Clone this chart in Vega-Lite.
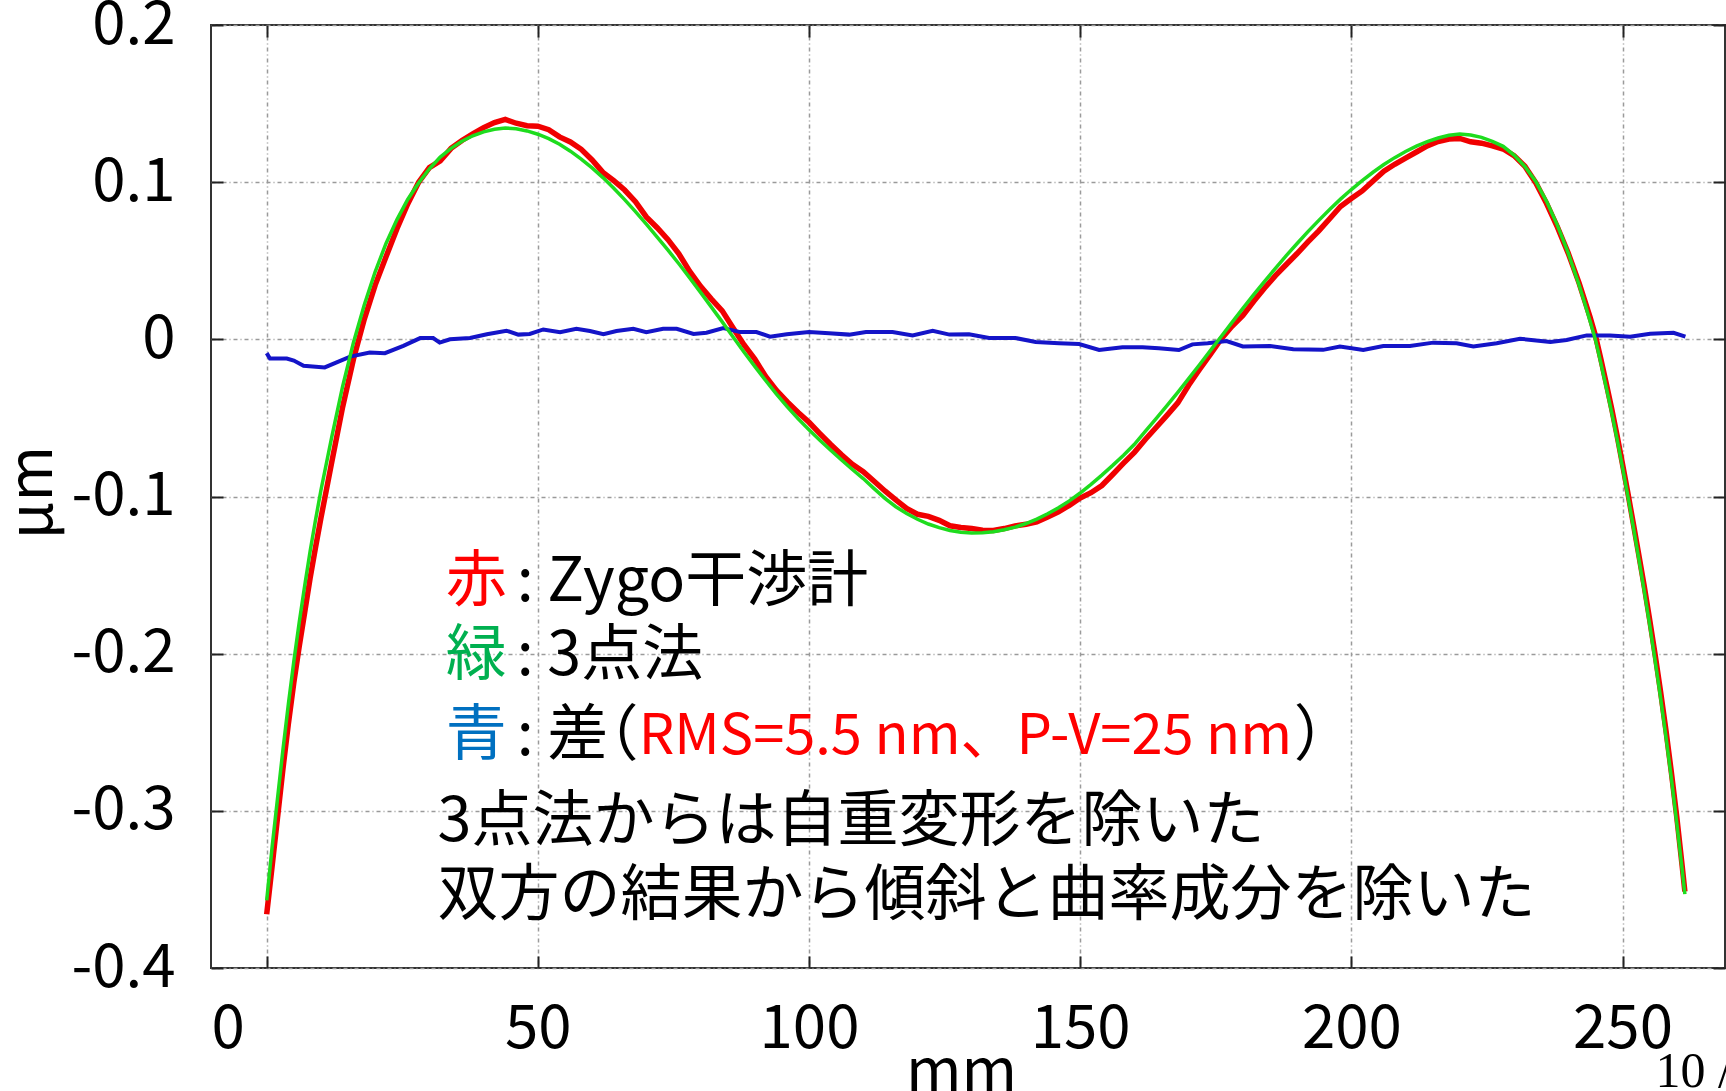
{
  "$schema": "https://vega.github.io/schema/vega-lite/v6.json",
  "width": 1514,
  "height": 943,
  "autosize": {"type": "none"},
  "padding": {"left": 211, "top": 25, "right": 1, "bottom": 123},
  "background": "white",
  "config": {
    "view": {"stroke": "#333333", "strokeWidth": 2},
    "font": "Noto Sans CJK JP"
  },
  "datasets": {
    "zygo": [
      {"x":0,"y":-0.3658},{"x":1,"y":-0.3352},{"x":2,"y":-0.3042},{"x":3,"y":-0.2732},{"x":4,"y":-0.2445},{"x":5,"y":-0.2185},{"x":6,"y":-0.1953},{"x":7,"y":-0.1738},{"x":8,"y":-0.1521},{"x":9,"y":-0.1324},{"x":10,"y":-0.1137},{"x":12,"y":-0.0781},{"x":14,"y":-0.0431},{"x":16,"y":-0.0126},{"x":18,"y":0.0129},{"x":20,"y":0.0345},{"x":22,"y":0.0525},{"x":24,"y":0.0702},{"x":26,"y":0.0861},{"x":28,"y":0.0998},{"x":30,"y":0.1093},{"x":32,"y":0.1135},{"x":34,"y":0.1215},{"x":36,"y":0.1265},{"x":38,"y":0.1307},{"x":40,"y":0.1347},{"x":42,"y":0.1379},{"x":44,"y":0.1399},{"x":46,"y":0.1375},{"x":48,"y":0.1359},{"x":50,"y":0.1356},{"x":52,"y":0.1334},{"x":54,"y":0.1288},{"x":56,"y":0.1256},{"x":58,"y":0.1209},{"x":60,"y":0.1141},{"x":62,"y":0.1062},{"x":64,"y":0.101},{"x":66,"y":0.095},{"x":68,"y":0.0876},{"x":70,"y":0.0779},{"x":72,"y":0.071},{"x":74,"y":0.0634},{"x":76,"y":0.0544},{"x":78,"y":0.0432},{"x":80,"y":0.0337},{"x":82,"y":0.0256},{"x":84,"y":0.0181},{"x":86,"y":0.0072},{"x":88,"y":-0.0034},{"x":90,"y":-0.0126},{"x":92,"y":-0.0236},{"x":94,"y":-0.0325},{"x":96,"y":-0.0398},{"x":98,"y":-0.0465},{"x":100,"y":-0.0528},{"x":102,"y":-0.06},{"x":104,"y":-0.0669},{"x":106,"y":-0.0735},{"x":108,"y":-0.0795},{"x":110,"y":-0.0842},{"x":112,"y":-0.0903},{"x":114,"y":-0.0965},{"x":116,"y":-0.1021},{"x":118,"y":-0.1076},{"x":120,"y":-0.1113},{"x":122,"y":-0.1126},{"x":124,"y":-0.1152},{"x":126,"y":-0.1186},{"x":128,"y":-0.1197},{"x":130,"y":-0.1204},{"x":132,"y":-0.1215},{"x":134,"y":-0.1216},{"x":136,"y":-0.1204},{"x":138,"y":-0.1187},{"x":140,"y":-0.1177},{"x":142,"y":-0.1161},{"x":144,"y":-0.1131},{"x":146,"y":-0.1097},{"x":148,"y":-0.1056},{"x":150,"y":-0.101},{"x":152,"y":-0.0976},{"x":154,"y":-0.093},{"x":156,"y":-0.086},{"x":158,"y":-0.0788},{"x":160,"y":-0.0719},{"x":162,"y":-0.0637},{"x":164,"y":-0.0561},{"x":166,"y":-0.0484},{"x":168,"y":-0.0404},{"x":170,"y":-0.0292},{"x":172,"y":-0.0192},{"x":174,"y":-0.0096},{"x":176,"y":0.0003},{"x":178,"y":0.0083},{"x":180,"y":0.0152},{"x":182,"y":0.0242},{"x":184,"y":0.0327},{"x":186,"y":0.0405},{"x":188,"y":0.0476},{"x":190,"y":0.0546},{"x":192,"y":0.062},{"x":194,"y":0.069},{"x":196,"y":0.0767},{"x":198,"y":0.0845},{"x":200,"y":0.0896},{"x":202,"y":0.0944},{"x":204,"y":0.1008},{"x":206,"y":0.107},{"x":208,"y":0.1114},{"x":210,"y":0.1153},{"x":212,"y":0.1192},{"x":214,"y":0.1231},{"x":216,"y":0.1259},{"x":218,"y":0.1274},{"x":220,"y":0.1278},{"x":222,"y":0.1257},{"x":224,"y":0.1248},{"x":226,"y":0.1231},{"x":228,"y":0.1211},{"x":230,"y":0.1169},{"x":232,"y":0.1101},{"x":234,"y":0.0997},{"x":236,"y":0.0864},{"x":238,"y":0.0714},{"x":240,"y":0.0547},{"x":242,"y":0.0358},{"x":244,"y":0.0143},{"x":245,"y":0.0025},{"x":246,"y":-0.0125},{"x":247,"y":-0.028},{"x":248,"y":-0.044},{"x":249,"y":-0.0612},{"x":250,"y":-0.0794},{"x":251,"y":-0.098},{"x":252,"y":-0.1174},{"x":253,"y":-0.137},{"x":254,"y":-0.1569},{"x":255,"y":-0.1782},{"x":256,"y":-0.2003},{"x":257,"y":-0.2237},{"x":258,"y":-0.2485},{"x":259,"y":-0.2752},{"x":260,"y":-0.3037},{"x":261,"y":-0.335},{"x":261.5,"y":-0.3513}
    ],
    "threept": [
      {"x":0,"y":-0.357},{"x":1,"y":-0.323},{"x":2,"y":-0.292},{"x":3,"y":-0.261},{"x":4,"y":-0.232},{"x":5,"y":-0.205},{"x":6,"y":-0.18},{"x":7,"y":-0.157},{"x":8,"y":-0.135},{"x":9,"y":-0.115},{"x":10,"y":-0.096},{"x":12,"y":-0.062},{"x":14,"y":-0.03},{"x":16,"y":-0.002},{"x":18,"y":0.022},{"x":20,"y":0.043},{"x":22,"y":0.061},{"x":24,"y":0.076},{"x":26,"y":0.089},{"x":28,"y":0.0995},{"x":30,"y":0.1085},{"x":32,"y":0.116},{"x":34,"y":0.1215},{"x":36,"y":0.126},{"x":38,"y":0.1295},{"x":40,"y":0.132},{"x":42,"y":0.1337},{"x":44,"y":0.1345},{"x":46,"y":0.134},{"x":48,"y":0.1326},{"x":50,"y":0.1305},{"x":52,"y":0.1277},{"x":54,"y":0.1241},{"x":56,"y":0.1197},{"x":58,"y":0.1147},{"x":60,"y":0.1091},{"x":62,"y":0.1029},{"x":64,"y":0.0961},{"x":66,"y":0.0889},{"x":68,"y":0.0813},{"x":70,"y":0.0733},{"x":72,"y":0.0651},{"x":74,"y":0.0567},{"x":76,"y":0.0481},{"x":78,"y":0.0391},{"x":80,"y":0.0299},{"x":82,"y":0.0205},{"x":84,"y":0.0111},{"x":86,"y":0.0015},{"x":88,"y":-0.008},{"x":90,"y":-0.0172},{"x":92,"y":-0.0262},{"x":94,"y":-0.0348},{"x":96,"y":-0.043},{"x":98,"y":-0.0505},{"x":100,"y":-0.0575},{"x":102,"y":-0.0642},{"x":104,"y":-0.0706},{"x":106,"y":-0.0768},{"x":108,"y":-0.0828},{"x":110,"y":-0.0886},{"x":112,"y":-0.095},{"x":114,"y":-0.1012},{"x":116,"y":-0.1065},{"x":118,"y":-0.1108},{"x":120,"y":-0.1145},{"x":122,"y":-0.1175},{"x":124,"y":-0.1198},{"x":126,"y":-0.1216},{"x":128,"y":-0.1228},{"x":130,"y":-0.1233},{"x":132,"y":-0.1231},{"x":134,"y":-0.1224},{"x":136,"y":-0.1212},{"x":138,"y":-0.1195},{"x":140,"y":-0.1172},{"x":142,"y":-0.1144},{"x":144,"y":-0.111},{"x":146,"y":-0.1072},{"x":148,"y":-0.1028},{"x":150,"y":-0.0978},{"x":152,"y":-0.0923},{"x":154,"y":-0.0864},{"x":156,"y":-0.0802},{"x":158,"y":-0.0737},{"x":160,"y":-0.0668},{"x":162,"y":-0.0585},{"x":164,"y":-0.0505},{"x":166,"y":-0.0422},{"x":168,"y":-0.0337},{"x":170,"y":-0.025},{"x":172,"y":-0.0162},{"x":174,"y":-0.0072},{"x":176,"y":0.0018},{"x":178,"y":0.0108},{"x":180,"y":0.0197},{"x":182,"y":0.0284},{"x":184,"y":0.0369},{"x":186,"y":0.0452},{"x":188,"y":0.0533},{"x":190,"y":0.061},{"x":192,"y":0.0685},{"x":194,"y":0.0757},{"x":196,"y":0.0826},{"x":198,"y":0.0892},{"x":200,"y":0.0953},{"x":202,"y":0.101},{"x":204,"y":0.1063},{"x":206,"y":0.1112},{"x":208,"y":0.1156},{"x":210,"y":0.1195},{"x":212,"y":0.1229},{"x":214,"y":0.1258},{"x":216,"y":0.1281},{"x":218,"y":0.1298},{"x":220,"y":0.1306},{"x":222,"y":0.13},{"x":224,"y":0.1285},{"x":226,"y":0.126},{"x":228,"y":0.1228},{"x":230,"y":0.1172},{"x":232,"y":0.11},{"x":234,"y":0.1005},{"x":236,"y":0.0878},{"x":238,"y":0.0725},{"x":240,"y":0.0548},{"x":242,"y":0.0345},{"x":243,"y":0.0235},{"x":244,"y":0.0118},{"x":245,"y":0},{"x":246,"y":-0.015},{"x":247,"y":-0.0305},{"x":248,"y":-0.0465},{"x":249,"y":-0.0635},{"x":250,"y":-0.0815},{"x":251,"y":-0.1},{"x":252,"y":-0.1195},{"x":253,"y":-0.1395},{"x":254,"y":-0.16},{"x":255,"y":-0.1815},{"x":256,"y":-0.204},{"x":257,"y":-0.2275},{"x":258,"y":-0.2525},{"x":259,"y":-0.279},{"x":260,"y":-0.3075},{"x":261,"y":-0.3375},{"x":261.5,"y":-0.353}
    ],
    "diff": [
      {"x":0,"y":-0.0088},{"x":0.6,"y":-0.0122},{"x":3.7,"y":-0.0122},{"x":5.0,"y":-0.0135},{"x":6.8,"y":-0.0168},{"x":10.7,"y":-0.0179},{"x":12.9,"y":-0.0147},{"x":15.4,"y":-0.011},{"x":19.0,"y":-0.0084},{"x":21.8,"y":-0.0088},{"x":25.2,"y":-0.0042},{"x":28.3,"y":0.0008},{"x":30.7,"y":0.0008},{"x":31.9,"y":-0.0021},{"x":33.8,"y":0.0},{"x":37.5,"y":0.0008},{"x":40.6,"y":0.0032},{"x":44.2,"y":0.0055},{"x":46.4,"y":0.003},{"x":48.5,"y":0.0034},{"x":51.0,"y":0.0063},{"x":54.1,"y":0.0046},{"x":57.1,"y":0.0067},{"x":59.6,"y":0.0053},{"x":62.1,"y":0.0032},{"x":64.5,"y":0.0053},{"x":67.6,"y":0.0067},{"x":70.0,"y":0.0046},{"x":73.1,"y":0.0067},{"x":75.6,"y":0.0067},{"x":78.7,"y":0.0034},{"x":81.1,"y":0.0042},{"x":84.2,"y":0.0072},{"x":87.3,"y":0.0046},{"x":90.3,"y":0.0046},{"x":92.8,"y":0.0017},{"x":95.9,"y":0.0032},{"x":100,"y":0.0047},{"x":103.7,"y":0.0038},{"x":107.4,"y":0.003},{"x":110.5,"y":0.0047},{"x":115.4,"y":0.0047},{"x":119.1,"y":0.0025},{"x":122.8,"y":0.0055},{"x":125.9,"y":0.003},{"x":129.5,"y":0.0032},{"x":133.2,"y":0.0008},{"x":138.1,"y":0.0008},{"x":141.8,"y":-0.0017},{"x":146.1,"y":-0.0025},{"x":149.8,"y":-0.003},{"x":153.5,"y":-0.0068},{"x":157.8,"y":-0.0051},{"x":161.5,"y":-0.0051},{"x":164.5,"y":-0.0057},{"x":168.2,"y":-0.0068},{"x":170.7,"y":-0.0032},{"x":173.5,"y":-0.0025},{"x":177,"y":-0.0011},{"x":180,"y":-0.0045},{"x":185,"y":-0.0042},{"x":189.3,"y":-0.0063},{"x":194.8,"y":-0.0067},{"x":197.9,"y":-0.0046},{"x":202.2,"y":-0.0067},{"x":205.9,"y":-0.0042},{"x":210.8,"y":-0.0042},{"x":215.1,"y":-0.0021},{"x":219.4,"y":-0.0025},{"x":222.5,"y":-0.0046},{"x":226.8,"y":-0.0025},{"x":231.1,"y":0.0004},{"x":236.7,"y":-0.0017},{"x":239.7,"y":-0.0004},{"x":243.4,"y":0.0025},{"x":247.7,"y":0.0025},{"x":251.4,"y":0.0017},{"x":255.1,"y":0.0036},{"x":259.4,"y":0.0042},{"x":261.6,"y":0.0017}
    ],
    "notes": [
      {"text":"赤","x":33.0,"y":-0.155,"part":"key_red"},
      {"text":": Zygo干渉計","x":46.1,"y":-0.155,"part":"body"},
      {"text":"緑","x":33.0,"y":-0.202,"part":"key_green"},
      {"text":": 3点法","x":46.1,"y":-0.202,"part":"body"},
      {"text":"青","x":33.0,"y":-0.253,"part":"key_blue"},
      {"text":": 差","x":46.1,"y":-0.253,"part":"body"},
      {"text":"（","x":57.3,"y":-0.253,"part":"body"},
      {"text":"RMS=5.5 nm、P-V=25 nm","x":68.6,"y":-0.253,"part":"stat"},
      {"text":"）","x":189.4,"y":-0.253,"part":"body"},
      {"text":"3点法からは自重変形を除いた","x":31.5,"y":-0.308,"part":"body"},
      {"text":"双方の結果から傾斜と曲率成分を除いた","x":31.5,"y":-0.355,"part":"body"}
    ],
    "page": [
      {"text":"10 /","x":256.1,"y":-0.4757}
    ]
  },
  "resolve": {"axis": {"x": "independent", "y": "independent"}},
  "layer": [
    {
      "data": {"name": "zygo"},
      "mark": {"type": "line", "color": "#F00000", "strokeWidth": 5.5},
      "encoding": {
        "x": {
          "field": "x", "type": "quantitative",
          "scale": {"domain": [-10.27, 268.9], "nice": false, "zero": false},
          "axis": {
            "orient": "bottom",
            "values": [0, 50, 100, 150, 200, 250],
            "title": "mm",
            "titleFont": "Noto Sans CJK JP", "titleFontSize": 60, "titleFontWeight": "normal", "titleColor": "black",
            "titleX": 750, "titleY": 123, "titleBaseline": "alphabetic", "titleAlign": "center",
            "labelFont": "Noto Sans CJK JP", "labelFontSize": 60, "labelColor": "black",
            "labelPadding": 73, "labelBaseline": "middle", "labelFlush": false, "labelOverlap": false,
            "labelOffset": {"condition": {"test": "datum.value === 0", "value": -39}, "value": 0},
            "grid": true, "gridColor": "#9a9a9a", "gridDash": [4, 3, 1, 3], "gridWidth": 1.5,
            "domain": false, "ticks": true, "tickSize": -12, "tickColor": "#222222", "tickWidth": 2
          }
        },
        "y": {
          "field": "y", "type": "quantitative",
          "scale": {"domain": [-0.4, 0.2], "nice": false, "zero": false},
          "axis": {
            "orient": "left",
            "values": [-0.4, -0.3, -0.2, -0.1, 0, 0.1, 0.2],
            "labelExpr": "datum.value == 0 ? '0' : (datum.value < 0 ? '-' + format(-datum.value, '.1f') : format(datum.value, '.1f'))",
            "title": "µm",
            "titleFont": "Noto Sans CJK JP", "titleFontSize": 60, "titleFontWeight": "normal", "titleColor": "black",
            "titleX": -178, "titleY": 467, "titleAngle": -90, "titleBaseline": "middle", "titleAlign": "center",
            "labelFont": "Noto Sans CJK JP", "labelFontSize": 60, "labelColor": "black",
            "labelPadding": 48, "labelBaseline": "middle", "labelFlush": false, "labelOverlap": false,
            "grid": true, "gridColor": "#9a9a9a", "gridDash": [4, 3, 1, 3], "gridWidth": 1.5,
            "domain": false, "ticks": true, "tickSize": -12, "tickColor": "#222222", "tickWidth": 2
          }
        }
      }
    },
    {
      "data": {"name": "diff"},
      "mark": {"type": "line", "color": "#1414C8", "strokeWidth": 4},
      "encoding": {
        "x": {
          "field": "x", "type": "quantitative",
          "axis": {"orient": "top", "values": [0, 50, 100, 150, 200, 250], "labels": false, "title": null, "grid": false, "domain": false, "tickSize": -12, "tickColor": "#222222", "tickWidth": 2}
        },
        "y": {
          "field": "y", "type": "quantitative",
          "axis": {"orient": "right", "values": [-0.4, -0.3, -0.2, -0.1, 0, 0.1, 0.2], "labels": false, "title": null, "grid": false, "domain": false, "tickSize": -12, "tickColor": "#222222", "tickWidth": 2}
        }
      }
    },
    {
      "data": {"name": "threept"},
      "mark": {"type": "line", "color": "#1EDC1E", "strokeWidth": 3.5},
      "encoding": {
        "x": {"field": "x", "type": "quantitative", "axis": null},
        "y": {"field": "y", "type": "quantitative", "axis": null}
      }
    },
    {
      "data": {"name": "notes"},
      "transform": [{"filter": "datum.part != 'stat'"}],
      "mark": {"type": "text", "align": "left", "baseline": "middle", "font": "Noto Sans CJK JP", "fontSize": 61},
      "encoding": {
        "x": {"field": "x", "type": "quantitative", "axis": null},
        "y": {"field": "y", "type": "quantitative", "axis": null},
        "text": {"field": "text"},
        "color": {
          "field": "part", "type": "nominal", "legend": null,
          "scale": {"domain": ["key_red", "key_green", "key_blue", "body", "stat"], "range": ["#FF0000", "#00B050", "#0070C0", "#000000", "#FF0000"]}
        }
      }
    },
    {
      "data": {"name": "notes"},
      "transform": [{"filter": "datum.part == 'stat'"}],
      "mark": {"type": "text", "align": "left", "baseline": "middle", "font": "Noto Sans CJK JP", "fontSize": 56, "color": "#FF0000"},
      "encoding": {
        "x": {"field": "x", "type": "quantitative", "axis": null},
        "y": {"field": "y", "type": "quantitative", "axis": null},
        "text": {"field": "text"}
      }
    },
    {
      "data": {"name": "page"},
      "mark": {"type": "text", "align": "left", "baseline": "alphabetic", "font": "Liberation Serif", "fontSize": 50, "color": "#000000"},
      "encoding": {
        "x": {"field": "x", "type": "quantitative", "axis": null},
        "y": {"field": "y", "type": "quantitative", "axis": null},
        "text": {"field": "text"}
      }
    }
  ]
}
